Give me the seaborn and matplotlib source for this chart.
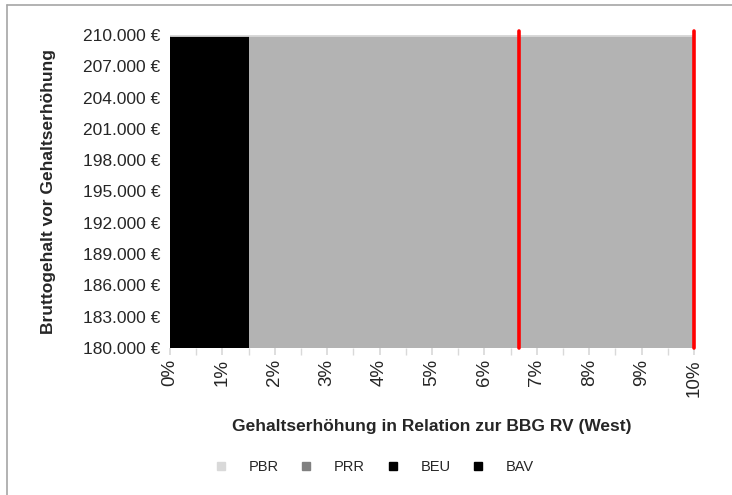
import matplotlib
matplotlib.use("Agg")
import matplotlib.pyplot as plt
import matplotlib.ticker as mticker
from matplotlib.lines import Line2D
import seaborn as sns
import pandas as pd

# Bereiche auf der x-Achse (Gehaltserhöhung in % der BBG RV)
region_names = ["BEU", "PRR_PBR"]
region_start = [0.0, 1.51]
region_end = [1.51, 10.0]
region_colors = ["#000000", "#b3b3b3"]

# Grenzlinien (rot)
limit_lines = [6.66, 10.0]

# y-Bereich: Bruttogehalt
y_min = 180000
y_max = 210000
y_ticks = [180000, 183000, 186000, 189000, 192000, 195000, 198000, 201000, 204000, 207000, 210000]
x_ticks = [0, 1, 2, 3, 4, 5, 6, 7, 8, 9, 10]

# Legende
legend_names = ["PBR", "PRR", "BEU", "BAV"]
legend_colors = ["#d9d9d9", "#808080", "#000000", "#000000"]

regions = pd.DataFrame({"name": region_names, "start": region_start,
                        "end": region_end, "color": region_colors})

sns.set_theme(style="white")
plt.rcParams["font.family"] = ["Liberation Sans", "DejaVu Sans"]

fig = plt.figure(figsize=(7.32, 4.95), dpi=100)
ax = fig.add_axes([170 / 732, 1 - 348 / 495, 524 / 732, 313 / 495])

# Flächen zeichnen
for _, r in regions.iterrows():
    ax.fill_between([r["start"], r["end"]], y_min, y_max, color=r["color"], linewidth=0, zorder=1)

# helle Linie oben
ax.plot([x_ticks[0], x_ticks[-1]], [y_max, y_max], color="#d9d9d9", lw=2, zorder=2)

# rote Linien
for xv in limit_lines:
    ax.plot([xv, xv], [y_min, y_max + 400], color="#ff0000", lw=2.6, zorder=3, clip_on=False)

ax.set_xlim(x_ticks[0], x_ticks[-1])
ax.set_ylim(y_min, y_max)
ax.set_xticks(x_ticks)
ax.set_xticklabels([f"{t}%" for t in x_ticks], rotation=90, fontsize=13.5)
ax.xaxis.set_minor_locator(mticker.MultipleLocator(0.5))
ax.set_yticks(y_ticks)
ax.set_yticklabels([f"{v:,.0f} €".replace(",", ".") for v in y_ticks], fontsize=12.5)
ax.tick_params(axis="x", which="both", direction="out", length=5, color="#d9d9d9",
               bottom=True, pad=3)
ax.tick_params(axis="y", left=False, length=0, pad=7)
for s in ax.spines.values():
    s.set_visible(False)

ax.set_xlabel("Gehaltserhöhung in Relation zur BBG RV (West)", fontsize=12.5,
              fontweight="bold", labelpad=16)
ax.set_ylabel("Bruttogehalt vor Gehaltserhöhung", fontsize=12.5, fontweight="bold", labelpad=19)

handles = [Line2D([], [], marker="s", linestyle="", markersize=6,
                  markerfacecolor=c, markeredgecolor=c) for c in legend_colors]
fig.legend(handles, legend_names, loc="center", bbox_to_anchor=(0.5 + 4 / 732, 1 - 467 / 495),
           ncol=4, frameon=False, fontsize=10.5, handletextpad=0.9, columnspacing=0.9)

# Rahmen links/oben
fig.add_artist(Line2D([6.5 / 732, 6.5 / 732], [0, 1 - 5 / 495], color="#a6a6a6", lw=1.2))
fig.add_artist(Line2D([6.5 / 732, 1], [1 - 5 / 495, 1 - 5 / 495], color="#a6a6a6", lw=1.2))

fig.savefig("out.png", dpi=100)
